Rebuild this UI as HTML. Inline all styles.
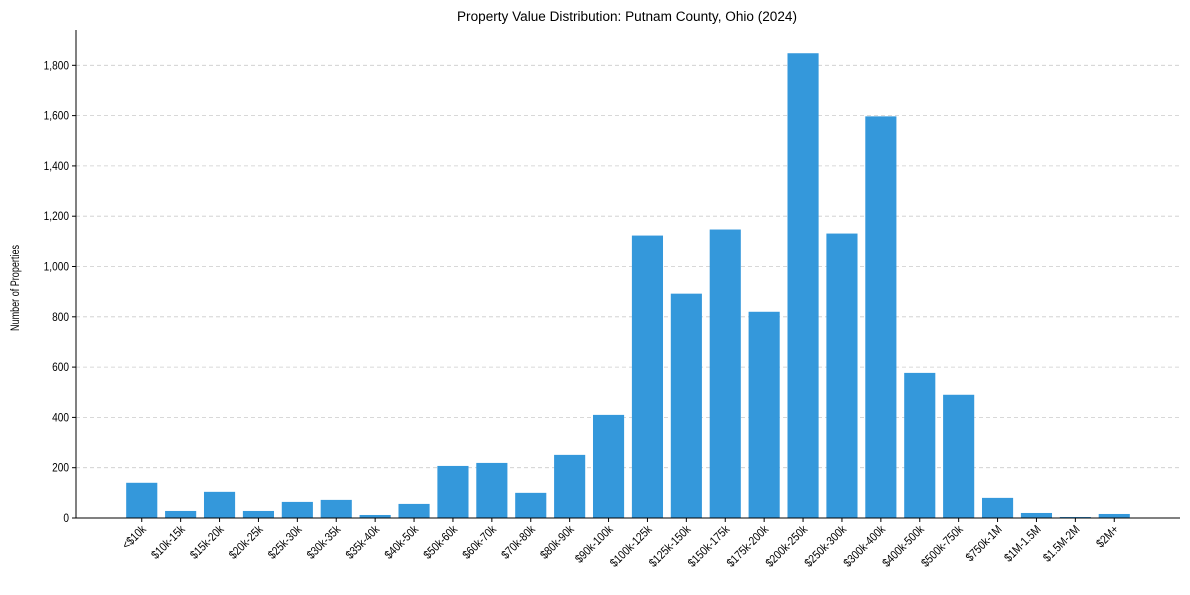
<!DOCTYPE html>
<html><head><meta charset="utf-8"><style>
body{margin:0;background:#fff;font-family:"Liberation Sans",Arial,sans-serif;}
svg text{font-family:"Liberation Sans",Arial,sans-serif;fill:#000;}
</style></head><body>
<svg id="chart" width="1190" height="590" viewBox="0 0 1190 590" xmlns="http://www.w3.org/2000/svg">
<rect width="1190" height="590" fill="#fff"/>
<text x="457" y="21" font-size="13.5" textLength="340" lengthAdjust="spacingAndGlyphs">Property Value Distribution: Putnam County, Ohio (2024)</text>
<text transform="translate(19,288) rotate(-90)" font-size="11.5" text-anchor="middle" textLength="86" lengthAdjust="spacingAndGlyphs">Number of Properties</text>
<g id="grid"></g><g id="bars"></g><g id="axes"></g>
</svg>
<script>
const categories=["<$10k","$10k-15k","$15k-20k","$20k-25k","$25k-30k","$30k-35k","$35k-40k","$40k-50k","$50k-60k","$60k-70k","$70k-80k","$80k-90k","$90k-100k","$100k-125k","$125k-150k","$150k-175k","$175k-200k","$200k-250k","$250k-300k","$300k-400k","$400k-500k","$500k-750k","$750k-1M","$1M-1.5M","$1.5M-2M","$2M+"];
const counts=[140,28,104,28,64,72,12,56,207,219,100,251,410,1123,892,1147,820,1848,1131,1597,577,490,80,20,4,16];
const yTicks=[0,200,400,600,800,1000,1200,1400,1600,1800];
const yTickLabels=["0","200","400","600","800","1,000","1,200","1,400","1,600","1,800"];
const NS="http://www.w3.org/2000/svg";
const L=76,R=1180,T=30,B=518;
const n=categories.length;
const xmin=-0.4-0.05*(n-0.2),xmax=n-1+0.4+0.05*(n-0.2);
const maxV=Math.max(...counts);
const ymax=maxV*1.05;
const x=i=>L+(i-xmin)/(xmax-xmin)*(R-L);
const y=v=>B-v/ymax*(B-T);
function mk(t,a,p){const e=document.createElementNS(NS,t);for(const k in a)e.setAttribute(k,a[k]);p.appendChild(e);return e;}
const grid=document.getElementById('grid'),bars=document.getElementById('bars'),axes=document.getElementById('axes');
yTicks.forEach((v,i)=>{
  if(v>0){const g=mk('line',{x1:L,x2:R,y1:y(v),y2:y(v),stroke:'#ccc','stroke-dasharray':'4,3','stroke-width':0.8},grid);
  
  }
  const tk=mk('line',{x1:L-4,x2:L,y1:y(v),y2:y(v),stroke:'#000'},axes);
  
  
  const t=mk('text',{transform:`translate(${L-7},${y(v)+4}) scale(0.88,1)`,'font-size':11.5,'text-anchor':'end'},axes);t.textContent=yTickLabels[i];
  
  
});
const bw=0.8*(R-L)/(xmax-xmin);
categories.forEach((c,i)=>{
  const r=mk('rect',{x:x(i)-bw/2,y:y(counts[i]),width:bw,height:B-y(counts[i]),fill:'#3498db'},bars);
  
  
  const tk=mk('line',{x1:x(i),x2:x(i),y1:B,y2:B+4,stroke:'#000'},axes);
  
  
  const t=mk('text',{transform:`translate(${x(i)+5},${B+12}) rotate(-45) scale(0.85,1)`,'font-size':12,'text-anchor':'end'},axes);t.textContent=c;
  
  
});
const ya=mk('line',{x1:L,x2:L,y1:T,y2:B,stroke:'#000'},axes);


const xa=mk('line',{x1:L,x2:R,y1:B,y2:B,stroke:'#000'},axes);


</script>
</body></html>
